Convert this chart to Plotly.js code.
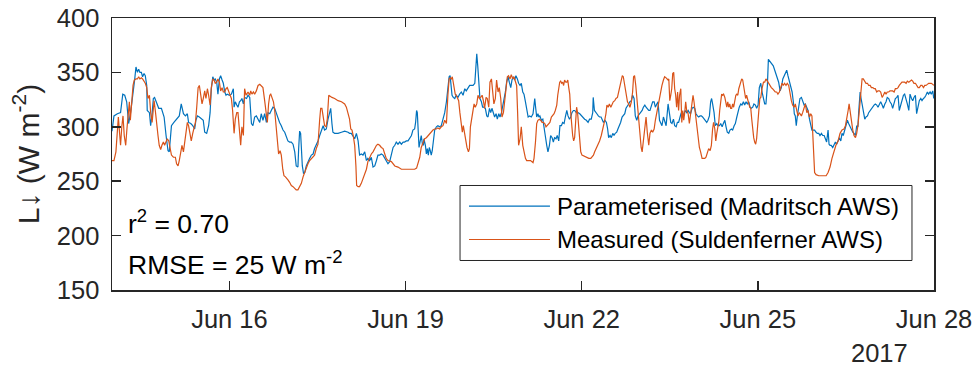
<!DOCTYPE html>
<html>
<head>
<meta charset="utf-8">
<script src="https://cdn.plot.ly/plotly-3.0.1.min.js"></script>
<style>html,body{margin:0;padding:0;background:#fff;}#chart{width:976px;height:368px;}</style>
</head>
<body>
<div id="chart"></div>
<script>
// Hours since 2017-06-14 00:00, longwave value (W m-2)
const startDate = '2017-06-14';
const parameterised = [
[0,296],[0.8,310],[2.2,312],[3.5,313],[4.4,330],[5.2,329],[6.0,323],[6.8,303],[7.6,313],[8.4,326],[9.3,344],[9.8,355],[10.4,350],[10.9,353],[11.4,350],[12.0,350],[12.5,346],[13.1,349],[13.6,347],[14.2,338],[14.4,315],[15.3,313],[15.8,301],[16.4,312],[16.9,326],[17.4,327],[18.3,321],[19.1,317],[20.2,317],[21.3,309],[22.1,292],[22.9,278],[23.4,277],[24.3,301],[25.3,304],[26.4,307],[27.5,310],[28.3,321],[29.2,312],[30.0,310],[30.8,312],[31.3,304],[32.2,303],[33.0,301],[33.8,298],[34.3,306],[34.9,310],[35.7,309],[36.5,307],[37.3,306],[37.9,295],[38.7,294],[39.5,301],[40.1,313],[40.6,335],[41.2,346],[41.7,343],[42.2,344],[42.8,341],[43.3,330],[43.9,344],[44.4,347],[45.0,343],[45.5,340],[46.1,332],[46.6,329],[47.1,330],[48.0,329],[48.8,330],[49.6,335],[49.9,318],[50.4,323],[51.0,320],[51.5,318],[52.1,323],[52.6,324],[53.1,326],[53.7,321],[54.2,327],[55.0,326],
[55.6,329],[56.3,327],[57.0,303],[57.6,301],[58.3,309],[59.0,310],[59.7,307],[60.4,304],[61.0,312],[61.7,306],[62.4,312],[63.1,304],[63.8,313],[64.5,312],[65.1,315],[65.8,318],[66.5,317],[67.2,312],[67.9,309],[68.5,304],[69.2,301],[69.9,297],[70.6,295],[71.3,290],[71.9,287],[72.6,286],[73.3,286],[74.0,284],[74.7,277],[75.3,264],[76.0,263],[76.3,280],[76.7,296],[77.1,294],[77.4,277],[77.8,264],[78.3,257],[78.8,258],[79.4,264],[80.1,268],[80.8,271],[81.5,274],[82.2,275],[82.8,280],[83.5,283],[84.2,287],[84.9,292],[85.6,297],[86.3,301],[86.9,297],[87.6,298],[88.3,307],[89.0,315],[89.4,317],[89.9,303],[90.3,295],[91.0,294],[92.4,294],[93.8,295],[95.1,296],[96.5,295],[97.1,294],[97.8,294],[98.5,292],[99.2,289],[99.9,294],[100.6,287],[101.2,274],[101.9,275],[102.6,274],[103.3,277],[104.0,269],[104.6,271],[105.3,269],[106.0,272],[106.7,263],[107.4,264],[108.1,269],[108.7,274],[109.4,274],[110.1,275],[110.8,274],[111.5,271],[112.1,268],
[112.8,266],[113.5,268],[114.2,275],[114.9,281],[115.6,283],[116.2,286],[116.9,284],[117.6,286],[118.3,284],[119.0,286],[119.6,286],[120.3,287],[121.0,287],[121.7,290],[122.4,292],[123.0,297],[123.7,298],[124.1,304],[124.5,315],[124.8,313],[125.1,300],[125.5,281],[125.9,286],[126.4,292],[126.9,284],[127.3,283],[127.5,289],[128.1,283],[128.5,275],[128.9,280],[129.3,274],[129.7,281],[130.1,278],[130.5,274],[130.9,278],[131.4,290],[131.9,297],[132.6,300],[133.2,301],[133.9,300],[134.6,301],[135.3,307],[136.0,313],[136.7,323],[137.3,336],[137.8,346],[138.2,347],[138.6,336],[139.0,329],[139.5,327],[140.1,326],[140.7,329],[141.4,327],[142.1,330],[142.8,332],[143.5,329],[144.2,335],[144.8,333],[145.5,336],[146.2,338],[146.9,338],[147.6,338],[148.3,340],[148.7,356],[149.1,367],[149.5,356],[149.9,338],[150.4,326],[151.0,323],[151.5,318],[152.0,318],[152.6,317],[153.2,310],[153.7,309],[154.3,317],[154.8,313],[155.3,317],[155.9,312],[156.4,309],[157.0,312],[157.5,307],[158.1,312],[158.6,309],[159.2,313],[159.7,318],[160.2,324],[160.8,332],[161.3,341],[161.9,346],[162.4,341],[163.0,336],[163.5,343],[164.0,346],[164.6,343],[165.1,347],[165.7,344],[166.2,340],[166.8,338],[167.3,340],[167.9,332],[168.4,330],[169.0,323],[169.5,315],
[170.1,309],[170.7,310],[171.4,309],[172.1,312],[172.8,326],[173.2,317],[173.6,309],[174.1,312],[174.5,309],[174.9,310],[175.5,306],[176.1,307],[176.6,301],[177.1,292],[177.7,283],[178.2,277],[178.8,283],[179.3,292],[179.9,290],[180.4,286],[180.9,290],[181.5,289],[182.0,292],[182.6,287],[183.1,301],[183.7,301],[184.2,304],[184.8,303],[185.3,309],[185.9,315],[186.4,310],[187.0,307],[187.5,309],[188.0,313],[188.6,315],[189.1,315],[189.8,313],[190.5,313],[191.2,312],[191.9,310],[192.5,309],[193.2,307],[193.9,306],[194.6,304],[195.2,307],[195.9,307],[196.5,313],[196.7,327],[197.2,315],[197.7,313],[198.2,312],[198.8,310],[199.3,309],[199.9,309],[200.4,306],[200.9,304],[201.5,306],[202.1,304],[202.6,298],[203.0,290],[203.6,292],[204.1,290],[204.7,294],[205.2,292],[205.7,294],[206.3,295],[206.8,298],[207.4,301],[207.9,304],[208.5,309],[209.0,310],[209.6,312],[210.1,317],[210.7,320],[211.2,321],[211.7,323],[212.3,324],[212.8,329],[213.4,326],[213.9,310],[214.5,306],[215.0,310],[215.6,312],[216.1,313],[216.7,315],[217.2,318],[217.8,320],[218.3,318],[218.8,317],[219.4,315],[219.9,315],[220.5,320],[221.0,323],[221.6,323],[222.1,318],[222.7,321],[223.2,323],[223.8,306],[224.3,303],[224.8,301],[225.4,309],[225.9,306],[226.5,301],
[227.3,321],[227.8,313],[228.4,304],[228.9,303],[229.5,307],[230.0,301],[230.6,300],[231.1,304],[231.6,304],[232.2,309],[232.7,313],[233.3,310],[233.8,313],[234.4,315],[234.9,313],[235.5,315],[236.0,313],[236.5,312],[237.1,317],[237.6,318],[238.2,317],[238.7,312],[239.3,310],[239.8,309],[240.4,310],[240.9,310],[241.4,309],[242.0,307],[242.5,306],[243.1,304],[243.6,306],[244.2,310],[244.7,323],[245.1,326],[245.5,321],[246.1,313],[246.6,301],[247.2,303],[247.7,301],[248.3,301],[248.8,303],[249.4,300],[249.9,303],[250.5,306],[251.0,300],[251.5,295],[252.1,294],[252.6,297],[253.2,298],[253.7,297],[254.3,301],[254.8,303],[255.4,309],[255.9,315],[256.4,318],[257.0,321],[257.5,320],[258.1,323],[258.6,320],[259.2,323],[259.7,321],[260.3,323],[260.8,318],[261.3,317],[261.9,318],[262.4,321],[263.0,320],[263.5,317],[264.1,320],[264.6,336],[265.2,340],[265.7,332],[266.2,327],[266.8,321],[267.3,321],[267.9,338],[268.3,362],[268.7,361],[269.3,359],[269.8,358],[270.3,356],[270.9,352],[271.4,349],[272.0,344],[272.5,341],[273.1,333],[273.6,336],[274.2,344],[274.7,347],[275.2,350],[275.8,352],[276.3,347],[276.9,341],[277.4,336],[278.0,332],[278.5,323],[278.9,312],[279.3,310],[279.7,301],[280.1,309],[280.7,317],
[281.2,326],[281.8,327],[282.3,323],[282.9,320],[283.4,321],[284.0,317],[284.5,315],[285.1,307],[285.6,303],[286.1,297],[286.7,297],[287.2,297],[287.8,295],[288.3,294],[288.9,294],[289.4,292],[290.0,294],[290.5,292],[291.1,292],[291.6,289],[292.1,286],[292.7,297],[293.1,284],[293.5,283],[294.0,283],[294.6,281],[295.1,284],[295.7,286],[296.2,284],[296.8,287],[297.3,290],[297.9,287],[298.4,294],[298.9,292],[299.5,297],[300.0,301],[300.6,306],[301.1,303],[301.7,300],[302.2,298],[302.8,295],[303.3,294],[303.9,292],[304.4,301],[304.9,300],[305.2,313],[305.8,332],[306.2,326],[306.6,320],[307.1,315],[307.7,307],[308.2,309],[308.8,310],[309.3,313],[309.9,315],[310.4,317],[311.0,318],[311.5,320],[312.0,321],[312.6,320],[313.1,318],[313.7,321],[314.2,323],[314.8,320],[315.3,317],[315.9,321],[316.4,323],[316.9,327],[317.5,326],[318.0,323],[318.6,321],[319.1,317],[319.7,323],[320.2,326],[320.8,327],[321.3,329],[321.8,315],[322.4,321],[322.9,326],[323.5,329],[324.0,330],[324.6,326],[325.1,321],[325.7,315],[326.2,330],[326.8,326],[327.3,324],[327.8,327],[328.4,329],[328.9,312],[329.5,320],[330.0,324],[330.6,326],[331.1,324],[331.7,326],[332.2,327],[332.7,329],[333.3,332],[333.8,330],[334.4,332],[334.9,330],[335.5,333],[335.9,326]
];
const measured = [
[0,269],[0.8,269],[1.6,277],[2.2,295],[2.6,309],[3.1,294],[3.5,283],[4.0,300],[4.5,310],[5.0,292],[5.6,283],[6.1,298],[6.7,315],[7.1,323],[7.5,306],[8.0,321],[8.6,338],[9.1,343],[9.8,344],[10.4,344],[10.9,346],[11.4,344],[12.0,345],[12.5,344],[13.1,342],[13.6,340],[14.2,336],[14.7,326],[15.3,329],[15.8,313],[16.4,304],[16.8,312],[17.2,324],[17.7,315],[18.3,300],[18.8,292],[19.3,283],[19.9,279],[20.4,283],[21.0,286],[21.5,283],[22.1,286],[22.6,289],[23.2,287],[23.7,281],[24.3,274],[25.1,272],[25.9,272],[26.4,266],[27.0,264],[27.5,269],[28.1,275],[28.6,283],[29.2,277],[29.7,286],[30.2,290],[30.8,304],[31.3,301],[31.9,292],[32.4,287],[33.0,294],[33.5,300],[34.1,304],[34.6,317],[35.2,336],[35.7,338],[36.2,330],[36.8,321],[37.3,326],[37.9,333],[38.4,326],[39.0,335],[39.5,329],[40.1,320],[40.6,336],[41.2,344],[41.7,343],[42.2,340],[42.8,341],[43.3,344],[43.9,341],[44.4,333],[45.0,336],[45.5,332],[46.1,332],[46.6,335],[47.1,336],[47.7,332],[48.2,329],[48.8,326],[49.3,315],[49.9,294],[50.4,307],[51.0,313],[51.5,313],[52.1,300],[52.6,283],[53.1,300],[53.7,292],[54.2,335],[54.8,329],
[55.6,332],[56.3,329],[56.7,333],[57.2,330],[57.8,332],[58.3,330],[59.0,333],[59.7,338],[60.4,339],[61.0,338],[61.7,336],[62.4,324],[63.1,312],[63.5,304],[64.0,321],[64.5,329],[64.9,330],[65.4,327],[66.0,323],[66.5,315],[67.0,301],[67.6,284],[68.1,275],[68.7,278],[69.2,274],[69.8,261],[70.3,255],[70.9,254],[71.4,252],[72.0,251],[72.6,249],[73.3,246],[74.0,245],[74.7,243],[75.3,242],[76.0,242],[76.7,245],[77.4,248],[78.1,254],[78.8,258],[79.4,263],[80.1,266],[80.8,269],[81.5,271],[82.2,272],[82.8,274],[83.5,280],[84.2,284],[84.9,307],[85.3,317],[85.8,317],[86.4,307],[86.9,301],[87.5,300],[88.0,307],[88.6,329],[89.1,328],[89.9,327],[91.0,326],[92.4,324],[93.8,323],[95.1,321],[95.8,318],[96.5,313],[97.1,307],[97.6,298],[98.1,297],[98.6,292],[99.2,283],[99.7,264],[100.0,246],[100.6,245],[101.2,245],[101.9,248],[102.6,252],[103.3,257],[104.0,261],[104.6,268],[105.3,272],[106.0,275],[106.7,277],[107.4,280],[108.1,283],[108.7,284],[109.4,283],[110.1,281],[110.8,280],[111.5,275],[112.1,271],
[112.8,269],[114.2,268],[115.6,264],[116.9,263],[118.3,261],[119.6,261],[121.0,261],[122.4,261],[123.7,261],[124.5,262],[125.1,266],[125.8,272],[126.4,281],[127.1,286],[127.8,289],[128.5,290],[129.2,292],[129.8,294],[130.5,295],[131.2,297],[131.9,298],[132.6,298],[133.2,299],[133.9,298],[134.6,300],[135.3,301],[136.0,306],[136.7,303],[137.3,329],[137.8,344],[138.2,345],[138.7,344],[139.1,346],[139.5,340],[139.9,335],[140.3,330],[140.7,329],[141.2,326],[141.7,324],[142.2,313],[142.8,304],[143.2,295],[143.6,301],[144.0,295],[144.6,287],[145.1,281],[145.7,277],[146.1,280],[146.5,300],[146.9,306],[147.4,313],[148.0,321],[148.5,318],[149.1,321],[149.6,329],[150.2,326],[150.7,327],[151.3,329],[151.8,324],[152.3,317],[152.9,327],[153.4,326],[154.0,318],[154.5,341],[155.1,344],[155.6,332],[156.1,321],[156.7,326],[157.2,343],[157.8,332],[158.3,336],[158.9,326],[159.4,309],[160.0,313],[160.5,323],[161.0,338],[161.6,346],[162.1,347],[162.7,344],[163.2,348],[163.8,344],[164.3,346],[164.8,343],[165.4,338],[165.8,313],[166.2,283],[166.8,289],[167.3,300],[167.9,283],[168.4,277],[169.0,271],[169.5,269],
[170.1,269],[171.1,269],[172.1,267],[172.5,271],[173.1,286],[173.6,303],[174.1,306],[174.7,307],[175.2,306],[175.8,304],[176.3,304],[176.9,303],[177.4,300],[177.9,301],[178.5,303],[179.0,304],[179.6,309],[180.1,310],[180.7,312],[181.2,315],[181.8,320],[182.2,329],[182.6,336],[183.0,341],[183.4,342],[183.8,340],[184.2,341],[184.6,338],[185.0,343],[185.5,341],[185.9,341],[186.3,343],[186.7,336],[187.1,330],[187.5,313],[187.9,301],[188.3,292],[188.7,287],[189.1,290],[189.5,304],[189.9,318],[190.3,313],[190.8,301],[191.2,289],[191.6,277],[192.1,274],[192.9,273],[193.9,272],[194.9,271],[195.7,271],[196.2,272],[196.8,274],[197.3,277],[198.0,280],[198.7,283],[199.3,287],[200.0,292],[200.7,298],[201.4,306],[201.9,312],[202.3,320],[202.8,318],[203.3,321],[203.9,318],[204.4,321],[204.9,323],[205.5,324],[206.0,326],[206.6,327],[207.1,332],[207.7,335],[208.2,341],[208.6,347],[209.0,346],[209.4,341],[209.8,333],[210.2,330],[210.7,323],[211.2,321],[211.7,318],[212.3,323],[212.8,332],[213.2,346],[213.6,347],[214.1,338],[214.5,327],[215.0,312],[215.4,298],[215.8,289],[216.3,281],[216.7,277],[217.0,283],[217.4,292],[217.9,306],[218.3,309],[218.8,295],[219.4,283],[219.9,294],[220.5,297],[221.0,295],[221.6,298],[222.1,306],[222.7,313],[223.2,321],[223.8,327],[224.3,332],[224.8,338],[225.4,343],[225.9,346],[226.5,345],
[227.3,343],[227.6,344],[228.0,324],[228.4,329],[228.8,335],[229.2,349],[229.6,350],[230.0,335],[230.4,329],[230.8,318],[231.2,332],[231.6,315],[232.0,329],[232.5,335],[232.9,304],[233.3,315],[233.7,306],[234.1,313],[234.5,323],[234.9,315],[235.5,312],[236.0,303],[236.5,313],[237.1,327],[237.5,329],[237.9,323],[238.5,310],[239.0,304],[239.5,289],[240.1,281],[240.6,277],[241.2,271],[241.7,271],[242.3,271],[242.8,272],[243.4,277],[243.9,280],[244.5,278],[245.0,283],[245.5,298],[245.9,304],[246.4,298],[246.8,287],[247.2,294],[247.6,298],[248.0,304],[248.4,315],[248.8,324],[249.2,330],[249.6,329],[250.0,330],[250.5,327],[250.9,321],[251.3,318],[251.7,323],[252.1,318],[252.5,321],[252.9,317],[253.3,317],[253.7,321],[254.1,318],[254.5,324],[255.0,329],[255.4,330],[255.8,329],[256.2,335],[256.6,338],[257.0,341],[257.4,344],[257.8,343],[258.2,338],[258.6,332],[259.0,326],[259.4,329],[259.8,324],[260.3,321],[260.7,318],[261.1,317],[261.5,307],[261.9,297],[262.3,290],[262.7,286],[263.1,284],[263.5,289],[263.9,304],[264.4,315],[264.8,326],[265.2,327],[265.7,335],[266.3,341],[266.8,341],[267.3,344],[267.9,342],[268.4,340],[269.0,338],[269.5,336],[270.0,335],[270.6,333],[271.1,332],[271.7,332],[272.2,330],[272.8,332],[273.3,336],[273.9,340],[274.4,338],[274.9,340],[275.5,338],[276.0,340],[276.6,338],[277.1,330],[277.7,324],[278.2,320],[278.8,318],[279.3,321],[279.8,317],[280.4,310],[280.9,313],
[281.2,312],[281.8,310],[282.3,313],[282.9,318],[283.4,321],[284.0,313],[284.5,315],[285.1,309],[285.6,312],[286.1,310],[286.4,298],[286.7,283],[287.0,264],[287.2,258],[287.8,256],[288.9,255],[290.0,255],[291.1,255],[291.9,255],[292.7,258],[293.5,263],[294.3,271],[295.1,278],[295.9,283],[296.8,287],[297.6,294],[298.4,297],[299.2,298],[299.8,301],[300.3,306],[300.9,315],[301.3,321],[301.7,313],[302.2,304],[302.8,297],[303.3,292],[303.9,290],[304.4,294],[304.9,301],[305.4,313],[305.8,323],[306.2,335],[306.6,344],[307.1,344],[307.7,341],[308.2,340],[308.8,340],[309.3,338],[309.9,338],[310.4,336],[311.0,336],[311.5,335],[312.0,335],[312.6,332],[313.1,333],[313.7,333],[314.2,332],[314.8,327],[315.3,329],[315.9,332],[316.4,330],[316.9,332],[317.5,332],[318.0,333],[318.6,333],[319.1,333],[319.7,332],[320.2,335],[320.8,335],[321.3,336],[321.8,338],[322.4,340],[322.9,341],[323.5,341],[324.0,341],[324.6,340],[325.1,342],[325.7,341],[326.2,342],[326.8,343],[327.3,342],[327.8,340],[328.4,340],[328.9,338],[329.5,336],[330.0,336],[330.6,338],[331.1,338],[331.7,336],[332.2,338],[332.7,338],[333.3,339],[333.8,340],[334.4,340],[334.9,340],[335.5,339],[335.9,338]
];
const seriesNames = ['Parameterised (Madritsch AWS)', 'Measured (Suldenferner AWS)'];
const seriesColors = ['#0072BD', '#D95319'];
const tickDates = ['2017-06-16', '2017-06-19', '2017-06-22', '2017-06-25', '2017-06-28'];
const tickLabels = ['Jun 16', 'Jun 19', 'Jun 22', 'Jun 25', 'Jun 28'];
const yTicks = [150, 200, 250, 300, 350, 400];
const statsText = ['r<sup>2</sup> = 0.70', 'RMSE = 25 W m<sup>-2</sup>'];
const yearLabel = '2017';
const yTitle = 'L↓ (W m<sup>-2</sup>)';

const t0 = Date.UTC(2017, 5, 14);
function toDate(h) {
  return new Date(t0 + h * 3600000).toISOString().slice(0, 19).replace('T', ' ');
}
const FONT = 'Liberation Sans, Arial, Helvetica, sans-serif';
const AX = '#262626';

const traces = [parameterised, measured].map((s, i) => ({
  type: 'scatter', mode: 'lines',
  x: s.map(p => toDate(p[0])), y: s.map(p => p[1]),
  name: seriesNames[i], line: {color: seriesColors[i], width: 1.2},
  showlegend: false, hoverinfo: 'skip'
}));

// manual legend (MATLAB-style long line samples)
const lg = {x0: 0.4234, x1: 0.9732, y0: 0.1085, y1: 0.3842};
const rowY = [0.3081, 0.1857];
const shapes = [
  {type: 'rect', xref: 'paper', yref: 'paper', x0: lg.x0, x1: lg.x1, y0: lg.y0, y1: lg.y1,
   line: {color: AX, width: 1}, fillcolor: 'white', layer: 'above'}
];
const annotations = [];
seriesNames.forEach((n, i) => {
  shapes.push({type: 'line', xref: 'paper', yref: 'paper', x0: 0.4343, x1: 0.5328, y0: rowY[i], y1: rowY[i],
    line: {color: seriesColors[i], width: 1.2}, layer: 'above'});
  annotations.push({xref: 'paper', yref: 'paper', x: 0.5389, y: rowY[i], xanchor: 'left', yanchor: 'middle',
    text: n, showarrow: false, font: {family: FONT, size: 24, color: '#000'}});
});
annotations.push({xref: 'paper', yref: 'paper', x: 0.0165, y: 0.25, xanchor: 'left', yanchor: 'middle',
  text: statsText[0], showarrow: false, font: {family: FONT, size: 26.5, color: '#000'}});
annotations.push({xref: 'paper', yref: 'paper', x: 0.0165, y: 0.10, xanchor: 'left', yanchor: 'middle',
  text: statsText[1], showarrow: false, font: {family: FONT, size: 26.5, color: '#000'}});
annotations.push({xref: 'paper', yref: 'paper', x: 0.9708, y: -0.23, xanchor: 'right', yanchor: 'middle',
  text: yearLabel, showarrow: false, font: {family: FONT, size: 25.5, color: AX}});

const axisCommon = {
  showline: true, linecolor: AX, linewidth: 1.5, mirror: 'ticks',
  ticks: 'inside', ticklen: 9, tickwidth: 1.5, tickcolor: AX,
  showgrid: false, zeroline: false,
  tickfont: {family: FONT, size: 25.5, color: AX}
};

const layout = {
  width: 976, height: 368,
  margin: {l: 112, r: 42, t: 18, b: 78, pad: 0},
  paper_bgcolor: 'white', plot_bgcolor: 'white',
  showlegend: false,
  xaxis: Object.assign({}, axisCommon, {
    type: 'date', range: [toDate(0), toDate(336)],
    tickmode: 'array', tickvals: tickDates, ticktext: tickLabels,
    ticklabelstandoff: 6
  }),
  yaxis: Object.assign({}, axisCommon, {
    range: [150, 400], tickmode: 'array', tickvals: yTicks,
    ticklabelstandoff: 6,
    title: {text: yTitle, standoff: 8,
            font: {family: FONT, size: 30, color: AX}}
  }),
  shapes: shapes,
  annotations: annotations
};

Plotly.newPlot('chart', traces, layout, {staticPlot: true, displayModeBar: false});
</script>
</body>
</html>
